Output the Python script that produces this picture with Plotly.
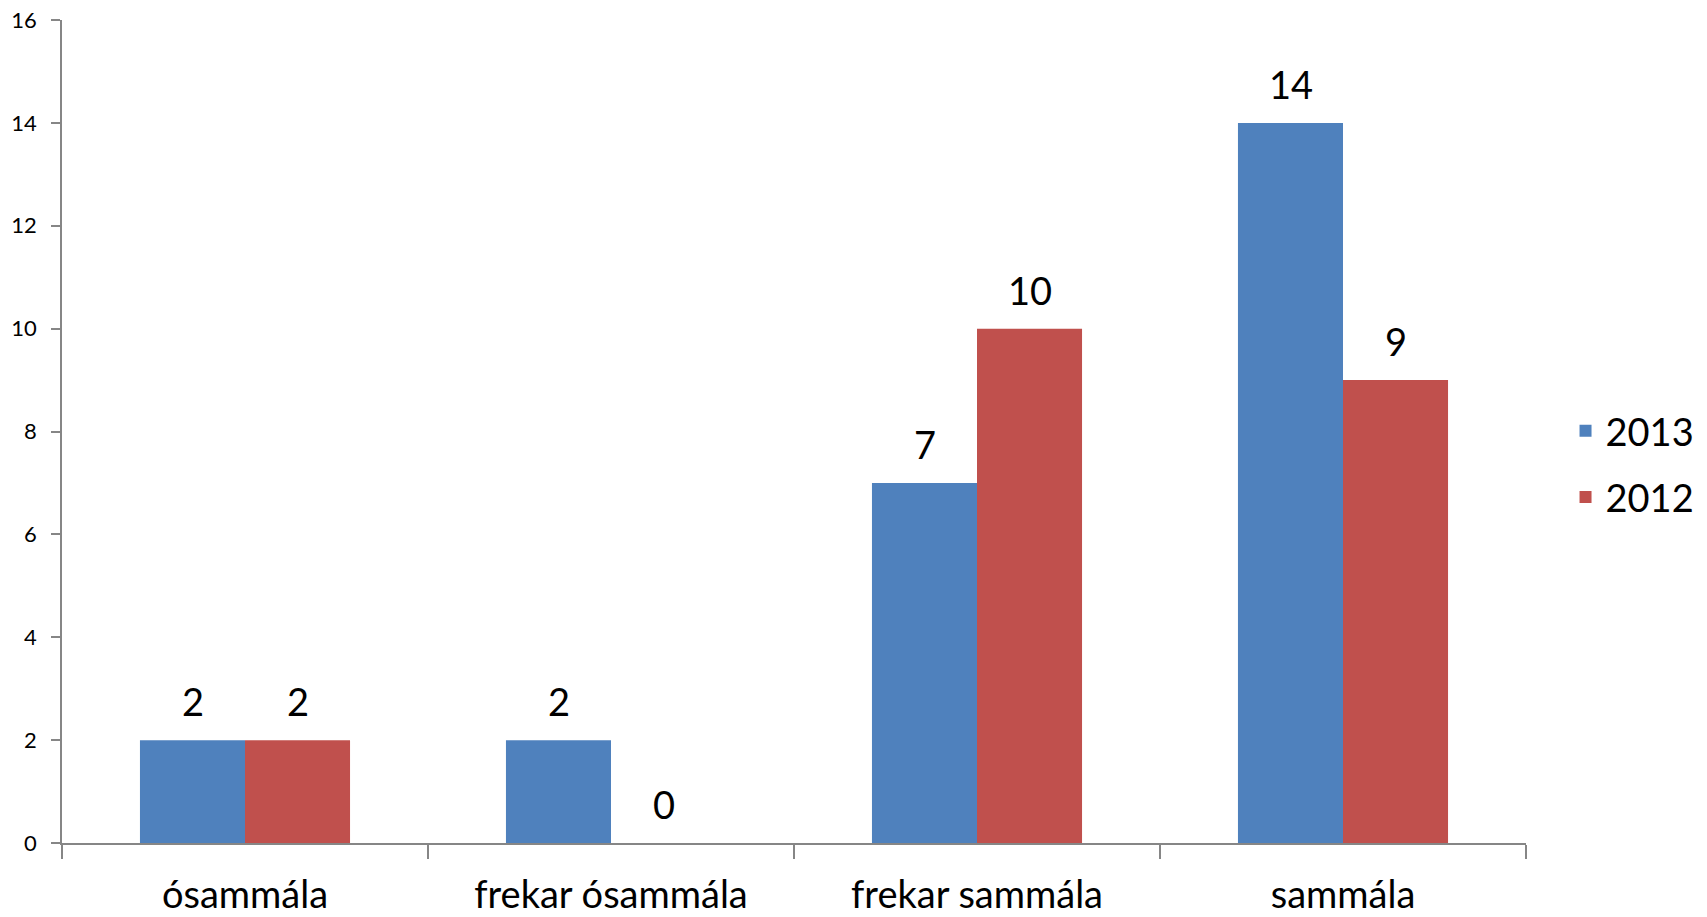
import plotly.graph_objects as go

categories = ["ósammála", "frekar ósammála", "frekar sammála", "sammála"]
series_names = ["2013", "2012"]
values_2013 = [2, 2, 7, 14]
values_2012 = [2, 0, 10, 9]
colors = ["#4F81BD", "#C0504D"]
y_ticks = [0, 2, 4, 6, 8, 10, 12, 14, 16]

FONT = "Lato, Carlito, Calibri, sans-serif"

fig = go.Figure()
for name, vals, col in zip(series_names, [values_2013, values_2012], colors):
    fig.add_trace(go.Bar(
        x=categories, y=vals, name=name, marker=dict(color=col, line=dict(width=0)),
        legendgroup=name,
    ))

# data labels as annotations above each bar
shifts = [-52.5, 52.5]
for vals, xs in zip([values_2013, values_2012], shifts):
    for c, v in zip(categories, vals):
        fig.add_annotation(x=c, y=v, text=str(v), showarrow=False, xshift=xs,
                           yshift=39, yanchor="middle",
                           font=dict(family=FONT, size=38, color="#000000"))

fig.update_layout(
    width=1707, height=917,
    paper_bgcolor="white", plot_bgcolor="white",
    margin=dict(l=62, r=181, t=20, b=74, autoexpand=False),
    barmode="group", bargap=0.426, bargroupgap=0,
    font=dict(family=FONT, color="#000000"),
    legend=dict(x=1.027, xanchor="left", y=0.4605, yanchor="middle",
                font=dict(family=FONT, size=38), tracegroupgap=14,
                itemwidth=30),
    showlegend=True,
)
fig.update_xaxes(
    type="category", showline=True, linecolor="#868686", linewidth=1.5,
    ticks="outside", tickson="boundaries", ticklen=14, tickcolor="#868686", tickwidth=1.5,
    tickfont=dict(family=FONT, size=38), showgrid=False, zeroline=False,
    ticklabelstandoff=18, automargin=False, ticklabeloverflow="allow",
)
fig.update_yaxes(
    range=[0, 16], tickvals=y_ticks, showline=True, linecolor="#868686", linewidth=1.5,
    ticks="outside", ticklen=9, tickcolor="#868686", tickwidth=1.5,
    tickfont=dict(family=FONT, size=22), showgrid=False, zeroline=False,
    ticklabelstandoff=10, automargin=False, ticklabeloverflow="allow",
)
fig.write_html("out.html", config={"displayModeBar": False},
               post_script="document.body.style.margin='0';document.body.style.overflow='hidden';")
